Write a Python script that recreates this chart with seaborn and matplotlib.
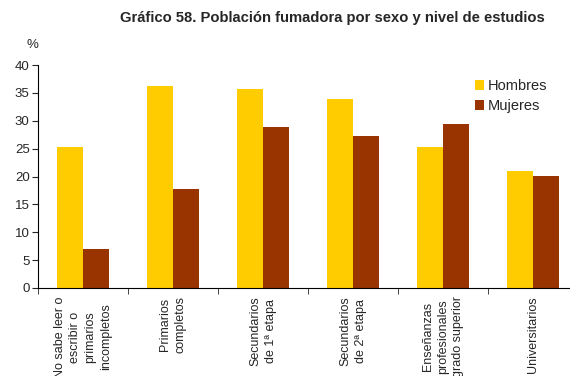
import pandas as pd
import numpy as np
import matplotlib
matplotlib.use("Agg")
import matplotlib.pyplot as plt
import seaborn as sns

# data
niveles = ["No sabe leer o\nescribir o\nprimarios\nincompletos", "Primarios\ncompletos",
           "Secundarios\nde 1ª etapa", "Secundarios\nde 2ª etapa",
           "Enseñanzas\nprofesionales\ngrado superior", "Universitarios"]
hombres = [25.3, 36.2, 35.7, 33.9, 25.3, 21.0]
mujeres = [7.0, 17.8, 28.9, 27.3, 29.4, 20.1]
sexos = ["Hombres", "Mujeres"]
colores = ["#FFCC00", "#993300"]

df = pd.DataFrame({
    "nivel": niveles * 2,
    "sexo": [sexos[0]] * len(niveles) + [sexos[1]] * len(niveles),
    "valor": hombres + mujeres,
})

sns.set_style("white")
plt.rcParams["font.family"] = ["Liberation Sans", "DejaVu Sans"]

W, H = 570, 376
fig = plt.figure(figsize=(5.7, 3.76), dpi=100)
# plot area runs past the right edge of the picture, like the original
ax = fig.add_axes([38 / W, 1 - 288 / H, (578 - 38) / W, (288 - 65) / H])

sns.barplot(data=df, x="nivel", y="valor", hue="sexo", palette=colores,
            width=0.58, saturation=1, linewidth=0, ax=ax, errorbar=None)

ax.set_ylim(0, 40)
ax.set_xlim(-0.5, len(niveles) - 0.5)
ax.set_yticks(range(0, 41, 5))
ax.tick_params(axis="y", labelsize=9.5, length=4, direction="out", left=True, pad=2)
ax.set_xticks(np.arange(-0.5, len(niveles), 1), minor=True)
ax.tick_params(axis="x", which="minor", length=4, direction="out", bottom=True)
ax.tick_params(axis="x", which="major", length=0, pad=6)
ax.set_xticklabels(niveles, rotation=90, fontsize=9, ha="center", va="top",
                   multialignment="center", linespacing=1.35)
ax.set_xlabel("")
ax.set_ylabel("")

for s in ["top", "right"]:
    ax.spines[s].set_visible(False)
for s in ["left", "bottom"]:
    ax.spines[s].set_color("black")
    ax.spines[s].set_linewidth(0.8)

ax.get_legend().remove()
handles, labels = ax.get_legend_handles_labels()
fig.legend(handles, labels, loc="upper left", bbox_to_anchor=(475 / W, 1 - 79 / H),
           bbox_transform=fig.transFigure, frameon=False, fontsize=10.5,
           borderpad=0, borderaxespad=0, handlelength=0.65, handleheight=0.65,
           handletextpad=0.25, labelspacing=0.4)

fig.text(32 / W, 1 - 45 / H, "%", fontsize=9.5, ha="center", va="center")
fig.text(332 / W, 1 - 18 / H, "Gráfico 58. Población fumadora por sexo y nivel de estudios",
         fontsize=10.6, fontweight="bold", ha="center", va="center")

fig.savefig("out.png", dpi=100)
